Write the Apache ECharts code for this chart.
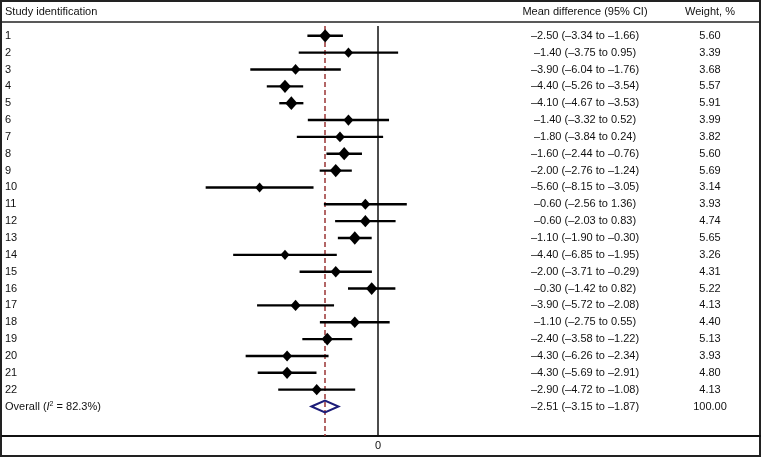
<!DOCTYPE html>
<html>
<head>
<meta charset="utf-8">
<script src="https://cdn.jsdelivr.net/npm/echarts@6/dist/echarts.min.js"></script>
<style>
  html, body { margin: 0; padding: 0; background: #fff; }
  #main { width: 762px; height: 458px; }
</style>
</head>
<body>
<div id="main"></div>
<script>
// study rows
var studies = ['1','2','3','4','5','6','7','8','9','10','11','12','13','14','15','16','17','18','19','20','21','22'];
var meanDiff = [-2.50,-1.40,-3.90,-4.40,-4.10,-1.40,-1.80,-1.60,-2.00,-5.60,-0.60,-0.60,-1.10,-4.40,-2.00,-0.30,-3.90,-1.10,-2.40,-4.30,-4.30,-2.90];
var ciLow = [-3.34,-3.75,-6.04,-5.26,-4.67,-3.32,-3.84,-2.44,-2.76,-8.15,-2.56,-2.03,-1.90,-6.85,-3.71,-1.42,-5.72,-2.75,-3.58,-6.26,-5.69,-4.72];
var ciHigh = [-1.66,0.95,-1.76,-3.54,-3.53,0.52,0.24,-0.76,-1.24,-3.05,1.36,0.83,-0.30,-1.95,-0.29,0.82,-2.08,0.55,-1.22,-2.34,-2.91,-1.08];
var weights = [5.60,3.39,3.68,5.57,5.91,3.99,3.82,5.60,5.69,3.14,3.93,4.74,5.65,3.26,4.31,5.22,4.13,4.40,5.13,3.93,4.80,4.13];

// pooled estimate
var overallMD = -2.51, overallLow = -3.15, overallHigh = -1.87, overallWeight = 100.00, iSquared = 82.3;

var headers = ['Study identification', 'Mean difference (95% CI)', 'Weight, %'];
var xTicks = [0];

var nRows = studies.length + 1;
var rowVals = [];
for (var i = 1; i <= nRows; i++) rowVals.push(i);

function fmt(v) {
  return (v < 0 ? '\u2013' : '') + Math.abs(v).toFixed(2);
}
var ciText = [], wText = [];
for (var i = 0; i < studies.length; i++) {
  ciText.push(fmt(meanDiff[i]) + ' (' + fmt(ciLow[i]) + ' to ' + fmt(ciHigh[i]) + ')');
  wText.push(weights[i].toFixed(2));
}
ciText.push(fmt(overallMD) + ' (' + fmt(overallLow) + ' to ' + fmt(overallHigh) + ')');
wText.push(overallWeight.toFixed(2));

var pointData = [], barData = [];
for (var i = 0; i < studies.length; i++) {
  pointData.push([meanDiff[i], i + 1, weights[i]]);
  barData.push([ciLow[i], ciHigh[i], i + 1]);
}

var FONT = '"Liberation Sans", Arial, sans-serif';
var txt = { color: '#111', fontSize: 11, fontFamily: FONT };
var yMin = 0.42, yMax = 24.75;

function textAxis(pos, margin, align, fn) {
  return {
    type: 'value', position: pos, inverse: true, min: yMin, max: yMax,
    axisLine: { show: false }, axisTick: { show: false }, splitLine: { show: false },
    axisLabel: Object.assign({
      inside: true, margin: margin, align: align, customValues: rowVals,
      formatter: fn,
      rich: {
        i: { fontStyle: 'italic', fontSize: 11, fontFamily: FONT, color: '#111' },
        sup: { fontSize: 7, fontFamily: FONT, color: '#111', padding: [0, 0, 5, 0] }
      }
    }, txt)
  };
}

var chart = echarts.init(document.getElementById('main'));
chart.setOption({
  animation: false,
  backgroundColor: '#fff',
  grid: { left: 2, right: 2, top: 26, bottom: 22 },
  xAxis: {
    type: 'value', min: -17.78, max: 18.06,
    axisLine: { show: true, lineStyle: { color: '#111', width: 2 } },
    axisTick: { show: false },
    splitLine: { show: false },
    axisLabel: Object.assign({ customValues: xTicks, margin: 4 }, txt)
  },
  yAxis: [
    textAxis('left', 3, 'left', function (v) {
      if (v <= studies.length) return studies[v - 1];
      return 'Overall ({i|I}{sup|2} = ' + iSquared + '%)';
    }),
    textAxis('right', 175, 'center', function (v) { return ciText[v - 1]; }),
    textAxis('right', 50, 'center', function (v) { return wText[v - 1]; })
  ],
  graphic: [
    { type: 'rect', shape: { x: 1, y: 1, width: 759, height: 455 }, style: { fill: 'none', stroke: '#222', lineWidth: 2 } },
    { type: 'line', shape: { x1: 1, y1: 22, x2: 760, y2: 22 }, style: { stroke: '#222', lineWidth: 1.5 } },
    { type: 'text', x: 5, y: 12, style: { text: headers[0], verticalAlign: 'middle', align: 'left', fill: '#111', font: '11px ' + FONT } },
    { type: 'text', x: 585, y: 12, style: { text: headers[1], verticalAlign: 'middle', align: 'center', fill: '#111', font: '11px ' + FONT } },
    { type: 'text', x: 710, y: 12, style: { text: headers[2], verticalAlign: 'middle', align: 'center', fill: '#111', font: '11px ' + FONT } }
  ],
  series: [
    {
      type: 'custom',
      name: 'ci',
      data: barData,
      z: 3,
      renderItem: function (params, api) {
        var a = api.coord([api.value(0), api.value(2)]);
        var b = api.coord([api.value(1), api.value(2)]);
        return {
          type: 'line',
          shape: { x1: a[0], y1: a[1], x2: b[0], y2: b[1] },
          style: { stroke: '#000', lineWidth: 2.4 }
        };
      },
      markLine: {
        silent: true,
        symbol: ['none', 'none'],
        label: { show: false },
        z: 1,
        data: [
          { xAxis: 0, lineStyle: { color: '#111', width: 1.5, type: 'solid' } },
          { xAxis: overallMD, lineStyle: { color: '#9a3434', width: 1.5, type: [5, 3] } }
        ]
      }
    },
    {
      type: 'scatter',
      name: 'md',
      data: pointData,
      z: 4,
      symbol: 'diamond',
      symbolSize: function (val) {
        var s = Math.sqrt(val[2]);
        return [5.0 * s, 5.6 * s];
      },
      itemStyle: { color: '#000', opacity: 1 }
    },
    {
      type: 'custom',
      name: 'overall',
      data: [[overallLow, overallMD, overallHigh, nRows]],
      z: 4,
      renderItem: function (params, api) {
        var row = api.value(3);
        var l = api.coord([api.value(0), row]);
        var m = api.coord([api.value(1), row]);
        var r = api.coord([api.value(2), row]);
        return {
          type: 'polygon',
          shape: { points: [[l[0], l[1]], [m[0], m[1] - 6], [r[0], r[1]], [m[0], m[1] + 6]] },
          style: { fill: 'none', stroke: '#1c1c78', lineWidth: 2 }
        };
      }
    }
  ]
});
</script>
</body>
</html>
